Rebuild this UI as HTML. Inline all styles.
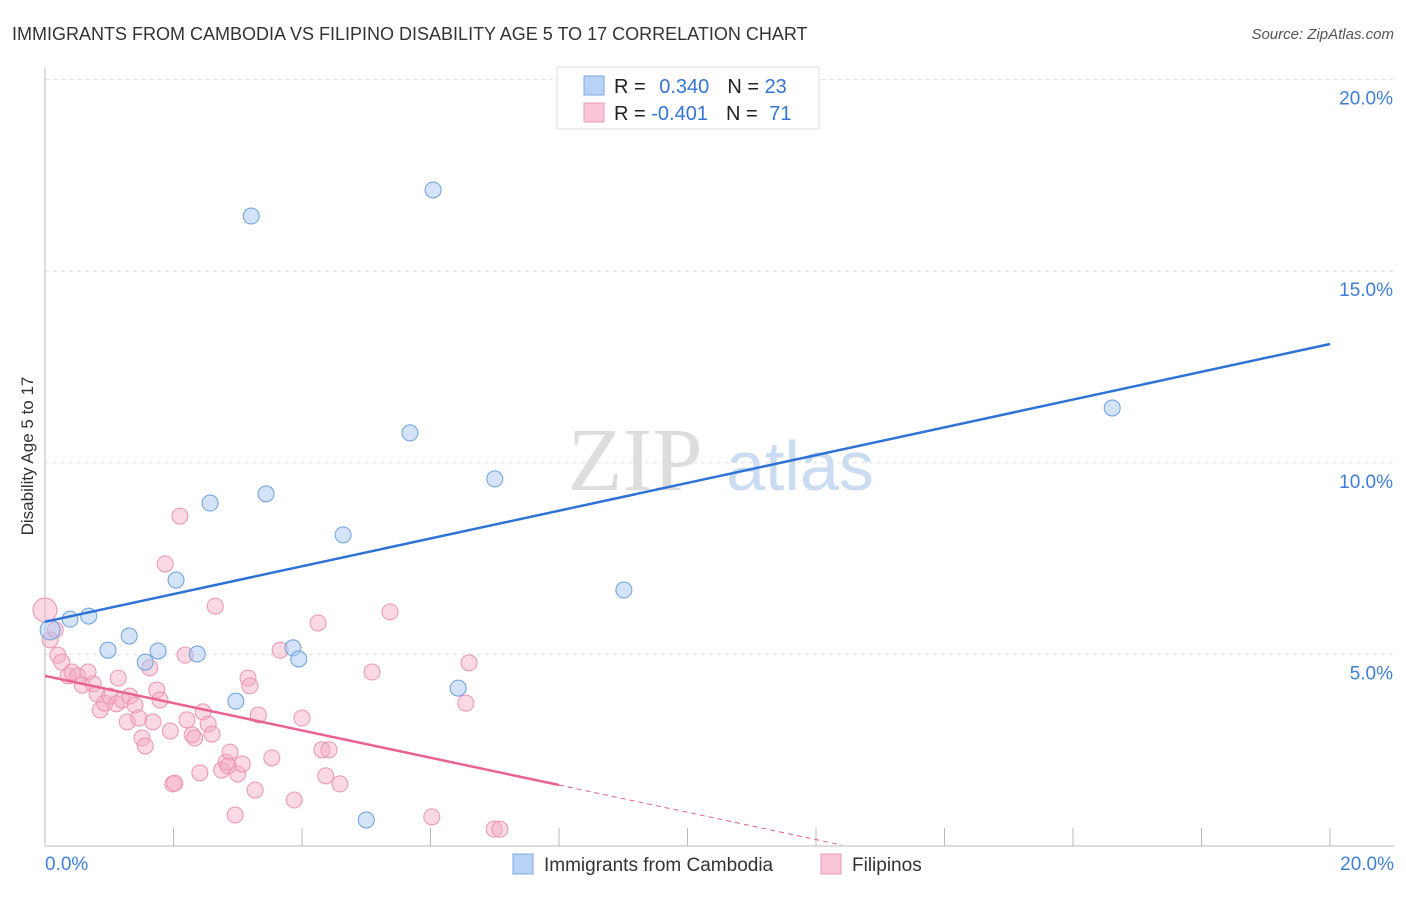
<!DOCTYPE html>
<html><head><meta charset="utf-8"><style>
body{margin:0;background:#fff;font-family:"Liberation Sans",sans-serif}
</style></head><body>
<svg id="c" width="1406" height="892" xmlns="http://www.w3.org/2000/svg" font-family="Liberation Sans, sans-serif">
<text x="12" y="40" font-size="18" fill="#333">IMMIGRANTS FROM CAMBODIA VS FILIPINO DISABILITY AGE 5 TO 17 CORRELATION CHART</text>
<text x="1394" y="39" font-size="15" fill="#555" font-style="italic" text-anchor="end">Source: ZipAtlas.com</text>
<text transform="translate(33,456) rotate(-90)" font-size="17" fill="#333" text-anchor="middle">Disability Age 5 to 17</text>
<g><text x="635" y="490" font-size="90" fill="#ddd" font-family="Liberation Serif, serif" text-anchor="middle">ZIP</text><text x="800" y="490" font-size="70" fill="#c9dcf2" text-anchor="middle">atlas</text></g>
<g id="grid"></g><g id="marks"></g>
<g>
<rect x="557" y="67" width="262" height="62" fill="#fff" stroke="#ddd"/>
<rect x="584" y="76" width="20" height="19" fill="#b8d3f5" stroke="#7aa9e6"/>
<text x="614" y="93" font-size="20" fill="#222">R = <tspan fill="#3575d3" dx="8">0.340</tspan><tspan fill="#222" dx="18">N = </tspan><tspan fill="#3575d3">23</tspan></text>
<rect x="584" y="103" width="20" height="19" fill="#f9c6d6" stroke="#ec9ab5"/>
<text x="614" y="120" font-size="20" fill="#222">R = <tspan fill="#3575d3">-0.401</tspan><tspan fill="#222" dx="18">N = </tspan><tspan fill="#3575d3" dx="6">71</tspan></text>
</g>
<g>
<rect x="513" y="854" width="20" height="20" fill="#b8d3f5" stroke="#7aa9e6"/>
<text x="544" y="871" font-size="19" fill="#333">Immigrants from Cambodia</text>
<rect x="821" y="854" width="20" height="20" fill="#f9c6d6" stroke="#ec9ab5"/>
<text x="852" y="871" font-size="19" fill="#333">Filipinos</text>
</g>
</svg>
<script>
const yTicks=[5,10,15,20];
const xTickLabels=["0.0%","20.0%"];
const blueX=[3.21,6.04,5.68,7.00,16.61,2.57,3.44,4.64,2.04,9.01,0.68,0.39,1.31,0.98,1.76,2.37,3.86,3.95,1.56,2.97,6.43,5.00,0.08];
const blueY=[16.44,17.12,10.78,9.58,11.43,8.95,9.19,8.12,6.94,6.68,6.00,5.92,5.48,5.11,5.09,5.01,5.17,4.88,4.80,3.78,4.12,0.68,5.64];
const pinkX=[0,.08,.16,.20,.26,.36,.42,.51,.58,.67,.75,.81,.86,.93,1.01,1.11,1.14,1.20,1.28,1.32,1.40,1.46,1.51,1.56,1.63,1.68,1.74,1.79,1.87,1.95,1.99,2.02,2.10,2.18,2.21,2.29,2.33,2.41,2.46,2.54,2.60,2.65,2.75,2.82,2.88,2.96,3.00,3.07,3.16,3.19,3.27,3.32,3.53,3.66,3.88,4.00,4.25,4.31,4.37,4.42,4.59,5.09,5.37,6.02,6.55,6.60,6.99,7.08,2.85];
const pinkY=[6.16,5.38,5.64,4.98,4.80,4.44,4.54,4.44,4.20,4.54,4.23,3.97,3.55,3.73,3.91,3.71,4.38,3.81,3.24,3.91,3.68,3.34,2.82,2.61,4.65,3.24,4.07,3.81,7.36,3.00,1.62,1.64,8.61,4.98,3.29,2.90,2.82,1.91,3.50,3.18,2.92,6.26,1.98,2.19,2.45,0.81,1.88,2.14,4.38,4.18,1.46,3.42,2.30,5.11,1.20,3.34,5.82,2.51,1.83,2.51,1.62,4.54,6.11,0.76,3.73,4.78,0.44,0.44,2.09];
const blueTrend=[5.85,13.1];
const pinkTrend=[4.44,-0.356];
const X=v=>45+v/20*1285, Y=v=>846-v/5*191.6;
const NS="http://www.w3.org/2000/svg";
function mk(p,t,a){const e=document.createElementNS(NS,t);for(const k in a)e.setAttribute(k,a[k]);p.appendChild(e);return e;}
const g=document.getElementById('grid'),m=document.getElementById('marks');
yTicks.forEach(t=>{const l=mk(g,'line',{x1:45,x2:1394,y1:Y(t),y2:Y(t),stroke:'#ddd','stroke-dasharray':'4,4'});


const tx=mk(g,'text',{x:1393,y:Y(t)+25,'font-size':19,fill:'#3f7fd6','text-anchor':'end'});tx.textContent=t.toFixed(1)+'%';

});
const ax=mk(g,'line',{x1:45,x2:1394,y1:846,y2:846,stroke:'#bbb'});


const ay=mk(g,'line',{x1:45,x2:45,y1:68,y2:846,stroke:'#bbb'});


for(let i=1;i<=10;i++){const t=mk(g,'line',{x1:X(i*2),x2:X(i*2),y1:828,y2:846,stroke:'#bbb'});

}
[[0,'start',45],[20,'end',1394]].forEach((d,i)=>{const t=mk(g,'text',{x:d[2],y:870,'font-size':19,fill:'#3f7fd6','text-anchor':d[1]});t.textContent=xTickLabels[i];

});
pinkX.forEach((x,i)=>{const c=mk(m,'circle',{cx:X(x),cy:Y(pinkY[i]),r:i==0?12:8,fill:'rgba(244,170,195,0.45)',stroke:'#ec94b2','stroke-width':1});

});
blueX.forEach((x,i)=>{const c=mk(m,'circle',{cx:X(x),cy:Y(blueY[i]),r:i==22?10:8,fill:'rgba(170,200,240,0.5)',stroke:'#6a9fe0','stroke-width':1});

});
const bl=mk(m,'line',{x1:X(0),y1:Y(blueTrend[0]),x2:X(20),y2:Y(blueTrend[1]),stroke:'#2f72d6','stroke-width':2.5});


const pl=mk(m,'line',{x1:X(0),y1:Y(pinkTrend[0]),x2:X(8),y2:Y(pinkTrend[0]+8*pinkTrend[1]),stroke:'#e8648f','stroke-width':2.5});


const pd=mk(m,'line',{x1:X(8),y1:Y(pinkTrend[0]+8*pinkTrend[1]),x2:X(12.4),y2:Y(pinkTrend[0]+12.4*pinkTrend[1]),stroke:'#e8648f','stroke-width':1,'stroke-dasharray':'5,4'});


</script>
</body></html>
